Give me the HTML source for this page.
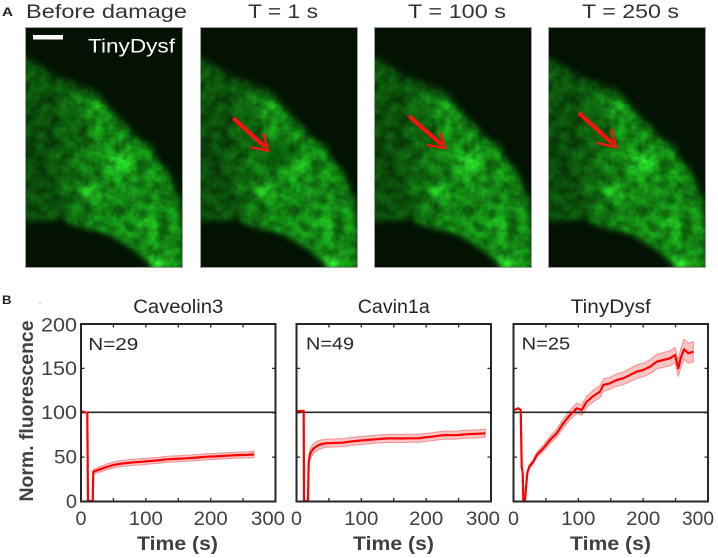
<!DOCTYPE html>
<html><head><meta charset="utf-8"><style>
html,body{margin:0;padding:0;background:#fff;}
svg{display:block;}
text{font-family:"Liberation Sans",Arial,sans-serif;}
</style></head><body>
<svg width="718" height="558" viewBox="0 0 718 558" xmlns="http://www.w3.org/2000/svg">
<defs>
  <clipPath id="ic"><rect x="0" y="0" width="158" height="241"/></clipPath>
  <linearGradient id="ig" gradientUnits="userSpaceOnUse" x1="28" y1="0" x2="72" y2="0">
    <stop offset="0" stop-color="#0b520b"/>
    <stop offset="1" stop-color="#138613"/>
  </linearGradient>
  <filter id="tex" x="-10%" y="-10%" width="120%" height="120%" color-interpolation-filters="sRGB">
    <feGaussianBlur in="SourceGraphic" stdDeviation="3" result="b"/>
    <feTurbulence type="fractalNoise" baseFrequency="0.09" numOctaves="3" seed="11" result="n"/>
    <feColorMatrix in="n" type="matrix" values="1 0 0 0 0  1 0 0 0 0  1 0 0 0 0  0 0 0 0 1" result="ng"/>
    <feComposite in="b" in2="ng" operator="arithmetic" k1="1.1" k2="0.45" k3="0" k4="0"/>
  </filter>
  <filter id="bl" x="-50%" y="-50%" width="200%" height="200%"><feGaussianBlur stdDeviation="5"/></filter>
  <g id="cell">
    <g filter="url(#tex)">
      <path d="M-3,26 L15,38 L32,48 L52,56 L72,64 L85,79 L102,98 L115,112 L127,117 L135,136 L142,139 L152,162 L160,183 L162,246 L128,246 L115,228 L95,212 L62,198 L38,192 L-3,196 Z" fill="#0b520b"/>
      <path d="M28,62 L58,66 L84,84 L106,108 L126,124 L142,150 L155,184 L157,243 L130,243 L112,225 L82,207 L42,197 L32,160 L26,110 Z" fill="url(#ig)"/>
      <ellipse cx="95" cy="137" rx="14" ry="10" fill="#22c022"/>
      <ellipse cx="65" cy="165" rx="10" ry="8" fill="#1fae1f"/>
      <ellipse cx="70" cy="82" rx="10" ry="7" fill="#1ca81c"/>
      <ellipse cx="134" cy="234" rx="9" ry="8" fill="#26c226"/>
      <ellipse cx="125" cy="200" rx="10" ry="10" fill="#1aa01a"/>
      <ellipse cx="110" cy="170" rx="8" ry="6" fill="#1aa41a"/>
      <ellipse cx="52" cy="108" rx="13" ry="15" fill="#0d5e0d"/>
      <ellipse cx="88" cy="190" rx="14" ry="7" fill="#117c11"/>
      <ellipse cx="12" cy="130" rx="14" ry="55" fill="#0a4a0a"/>
    </g>
  </g>
</defs>

<!-- Panel A -->
<text x="2" y="16" font-size="12" font-weight="bold" fill="#222" textLength="11" lengthAdjust="spacingAndGlyphs">A</text>
<text x="26" y="18" font-size="19" fill="#333" textLength="161" lengthAdjust="spacingAndGlyphs">Before damage</text>
<text x="248" y="18" font-size="19" fill="#333" textLength="70" lengthAdjust="spacingAndGlyphs">T = 1 s</text>
<text x="408" y="18" font-size="19" fill="#333" textLength="98" lengthAdjust="spacingAndGlyphs">T = 100 s</text>
<text x="582" y="18" font-size="19" fill="#333" textLength="97" lengthAdjust="spacingAndGlyphs">T = 250 s</text>

<g transform="translate(25,27)">
  <g clip-path="url(#ic)">
    <rect width="158" height="241" fill="#031203"/>
    <use href="#cell"/>
  </g>
  <rect x="0.5" y="0.5" width="157" height="240" fill="none" stroke="#a0a0a0" stroke-width="1"/>
  <rect x="8" y="8" width="30" height="4.5" fill="#fff"/>
  <text x="63" y="25.5" font-size="19" fill="#fff" textLength="87" lengthAdjust="spacingAndGlyphs">TinyDysf</text>
</g>

<g transform="translate(200,27)">
  <g clip-path="url(#ic)">
    <rect width="158" height="241" fill="#031203"/>
    <use href="#cell"/>
    <ellipse cx="82" cy="128" rx="20" ry="13" fill="#063806" opacity="0.6" filter="url(#bl)"/>
  </g>
  <rect x="0.5" y="0.5" width="157" height="240" fill="none" stroke="#a0a0a0" stroke-width="1"/>
  <line x1="33.3" y1="91.3" x2="65" y2="119.7" stroke="#ff1010" stroke-width="4"/>
  <polyline points="63.3,106.3 68.3,123.7 51,120.3" fill="none" stroke="#ff1010" stroke-width="2.4"/>
</g>

<g transform="translate(374,27)">
  <g clip-path="url(#ic)">
    <rect width="158" height="241" fill="#031203"/>
    <use href="#cell"/>
  </g>
  <rect x="0.5" y="0.5" width="157" height="240" fill="none" stroke="#a0a0a0" stroke-width="1"/>
  <line x1="35" y1="89" x2="67.5" y2="117.5" stroke="#ff1010" stroke-width="4"/>
  <polyline points="66,105 71,121 53,118" fill="none" stroke="#ff1010" stroke-width="2.4"/>
</g>

<g transform="translate(548,27)">
  <g clip-path="url(#ic)">
    <rect width="158" height="241" fill="#031203"/>
    <use href="#cell"/>
  </g>
  <rect x="0.5" y="0.5" width="157" height="240" fill="none" stroke="#a0a0a0" stroke-width="1"/>
  <line x1="31" y1="86" x2="64.5" y2="116.5" stroke="#ff1010" stroke-width="4"/>
  <polyline points="63,102 68,120 49,116" fill="none" stroke="#ff1010" stroke-width="2.4"/>
</g>

<!-- Panel B -->
<text x="2" y="304" font-size="12" font-weight="bold" fill="#222" textLength="9.5" lengthAdjust="spacingAndGlyphs">B</text>
<circle cx="40" cy="303" r="0.6" fill="#777"/>

<!-- titles -->
<text x="178.25" y="313" font-size="19" fill="#262626" text-anchor="middle" textLength="90" lengthAdjust="spacingAndGlyphs">Caveolin3</text>
<text x="393.75" y="313" font-size="19" fill="#262626" text-anchor="middle" textLength="72" lengthAdjust="spacingAndGlyphs">Cavin1a</text>
<text x="610.75" y="313" font-size="19" fill="#262626" text-anchor="middle" textLength="80" lengthAdjust="spacingAndGlyphs">TinyDysf</text>

<!-- y label -->
<text transform="translate(33,411) rotate(-90)" x="0" y="0" font-size="19.5" font-weight="bold" fill="#404040" text-anchor="middle" textLength="181" lengthAdjust="spacingAndGlyphs">Norm. fluorescence</text>

<!-- y tick labels -->
<g font-size="19" fill="#404040" text-anchor="end">
  <text x="77" y="508" textLength="11" lengthAdjust="spacingAndGlyphs">0</text>
  <text x="77" y="463.6" textLength="23" lengthAdjust="spacingAndGlyphs">50</text>
  <text x="77" y="419.2" textLength="36" lengthAdjust="spacingAndGlyphs">100</text>
  <text x="77" y="374.9" textLength="36" lengthAdjust="spacingAndGlyphs">150</text>
  <text x="77" y="331.5" textLength="36" lengthAdjust="spacingAndGlyphs">200</text>
</g>

<!-- x tick labels -->
<g font-size="19" fill="#404040" text-anchor="middle">
  <text x="81" y="525" textLength="11" lengthAdjust="spacingAndGlyphs">0</text>
  <text x="145.8" y="525" textLength="34" lengthAdjust="spacingAndGlyphs">100</text>
  <text x="210.7" y="525" textLength="34" lengthAdjust="spacingAndGlyphs">200</text>
  <text x="268" y="525" textLength="34" lengthAdjust="spacingAndGlyphs">300</text>
  <text x="296.5" y="525" textLength="11" lengthAdjust="spacingAndGlyphs">0</text>
  <text x="361.3" y="525" textLength="34" lengthAdjust="spacingAndGlyphs">100</text>
  <text x="426.2" y="525" textLength="34" lengthAdjust="spacingAndGlyphs">200</text>
  <text x="483" y="525" textLength="34" lengthAdjust="spacingAndGlyphs">300</text>
  <text x="513.5" y="525" textLength="11" lengthAdjust="spacingAndGlyphs">0</text>
  <text x="578.3" y="525" textLength="34" lengthAdjust="spacingAndGlyphs">100</text>
  <text x="643.2" y="525" textLength="34" lengthAdjust="spacingAndGlyphs">200</text>
  <text x="698" y="525" textLength="32" lengthAdjust="spacingAndGlyphs">300</text>
</g>

<!-- x labels -->
<g font-size="19.5" font-weight="bold" fill="#404040" text-anchor="middle">
  <text x="177.5" y="550" textLength="81" lengthAdjust="spacingAndGlyphs">Time (s)</text>
  <text x="393.5" y="550" textLength="81" lengthAdjust="spacingAndGlyphs">Time (s)</text>
  <text x="610.5" y="550" textLength="81" lengthAdjust="spacingAndGlyphs">Time (s)</text>
</g>

<!-- N labels -->
<g font-size="17.5" fill="#262626">
  <text x="88.3" y="350" textLength="50" lengthAdjust="spacingAndGlyphs">N=29</text>
  <text x="306" y="349.5" textLength="48" lengthAdjust="spacingAndGlyphs">N=49</text>
  <text x="521.7" y="349.5" textLength="48.5" lengthAdjust="spacingAndGlyphs">N=25</text>
</g>

<!-- Plot 1 data -->
<polygon points="93.3,469.7 100,466.5 106,464.3 113.3,462 120,460.8 133.3,459.3 141,458.8 150,458 158,457.4 166.7,456.3 176,455.9 186.7,455.3 196,454.6 206.7,453.7 216,453.4 226.7,452.7 240,452 247,451.9 254,451.2 254,457.6 247,457.9 240,458 226.7,458.7 216,459.4 206.7,459.7 196,460.6 186.7,461.3 176,461.9 166.7,462.3 158,463.4 150,464 141,464.8 133.3,465.3 120,466.8 113.3,468 106,470.1 100,472.1 93.3,473.7" fill="#f9c4c4" stroke="#f29090" stroke-width="1"/>
<!-- Plot 2 data -->
<polygon points="308.7,456.7 310.3,448.3 313.7,443.3 318.7,440.5 325.3,439.3 333,439 342,438.7 350,437.6 358.7,436.7 367,436 375.3,435.3 384,434.6 392,434.3 400,434.5 408.7,434.3 418.7,434.3 425,433.4 432,432.7 439,431.7 445.3,431 452,431.2 458.7,431 465,430.3 472,430 479,429.7 485.3,429.3 485.3,437.3 479,437.7 472,438 465,438.3 458.7,439 452,439.2 445.3,439 439,439.7 432,440.7 425,441.4 418.7,442.3 408.7,442.3 400,442.5 392,442.3 384,442.6 375.3,443.3 367,444 358.7,444.7 350,445.6 342,446.7 333,447 325.3,447.3 318.7,449.5 313.7,453.3 310.3,458.3 308.7,466.7" fill="#f9c4c4" stroke="#f29090" stroke-width="1"/>
<!-- Plot 3 data -->
<polygon points="527.3,471 529.3,464.7 533.3,459.5 536.7,452.5 543.3,445.3 550,436.5 556.7,429.3 563.3,418.8 570,410.2 576.7,403.3 581.7,404.7 586.7,396.2 593.3,390.2 600,385.7 603.3,379 610,377.3 616.7,373.8 623.3,372 630,368.5 636.7,365 643.3,363.2 650,359.7 656.7,354.5 663.3,352.6 670,350.8 675,347.2 678.3,360 680.7,349.3 684,339.3 688.3,343.3 693.3,341.7 693.3,361.7 688.3,363.3 684,359.3 680.7,367.3 678.3,376.6 675,362.8 670,365.8 663.3,367.4 656.7,368.9 650,373.7 643.3,376.8 636.7,378.4 630,381.5 623.3,384.6 616.7,386.2 610,389.3 603.3,391 600,397.7 593.3,401.8 586.7,407.2 581.7,415.3 576.7,413.3 570,419.8 563.3,427.8 556.7,437.3 550,443.5 543.3,451.3 536.7,457.5 533.3,463.9 529.3,468.7 527.3,475" fill="#f9c4c4" stroke="#f29090" stroke-width="1"/>

<!-- horizontal lines at 100 -->
<g stroke="#262626" stroke-width="1.6">
  <line x1="81" y1="412.3" x2="275.5" y2="412.3"/>
  <line x1="296.5" y1="412.3" x2="491" y2="412.3"/>
  <line x1="513.5" y1="412.3" x2="708" y2="412.3"/>
</g>

<!-- red mean lines -->
<g fill="none" stroke="#ff0000" stroke-width="2.2" stroke-linejoin="round">
  <polyline points="81,411 87.3,413 88,501 92.7,501 93.3,471.7 100,469.3 106,467.2 113.3,465 120,463.8 133.3,462.3 141,461.8 150,461 158,460.4 166.7,459.3 176,458.9 186.7,458.3 196,457.6 206.7,456.7 216,456.4 226.7,455.7 240,455 247,454.9 254,454.4"/>
  <polyline points="297,411 303.7,411 304,501 308,501 308.7,461.7 310.3,453.3 313.7,448.3 318.7,445 325.3,443.3 333,443 342,442.7 350,441.6 358.7,440.7 367,440 375.3,439.3 384,438.6 392,438.3 400,438.5 408.7,438.3 418.7,438.3 425,437.4 432,436.7 439,435.7 445.3,435 452,435.2 458.7,435 465,434.3 472,434 479,433.7 485.3,433.3"/>
  <polyline points="514,410 518.3,408.3 520.7,410 521.7,466.7 522.7,473 523.3,500 525,500 527.3,473 529.3,466.7 533.3,461.7 536.7,455 543.3,448.3 550,440 556.7,433.3 563.3,423.3 570,415 576.7,408.3 581.7,410 586.7,401.7 593.3,396 600,391.7 603.3,385 610,383.3 616.7,380 623.3,378.3 630,375 636.7,371.7 643.3,370 650,366.7 656.7,361.7 663.3,360 670,358.3 675,355 678.3,368.3 680.7,358.3 684,349.3 688.3,353.3 693.3,351.7"/>
</g>

<!-- frames -->
<g fill="none" stroke="#262626" stroke-width="2">
  <rect x="81" y="324" width="194.5" height="177.5"/>
  <rect x="296.5" y="324" width="194.5" height="177.5"/>
  <rect x="513.5" y="324" width="194.5" height="177.5"/>
</g>

<!-- ticks -->
<g stroke="#262626" stroke-width="1.3" fill="none">
  <path d="M113.42,501.5v-3.5M145.83,501.5v-3.5M178.25,501.5v-3.5M210.67,501.5v-3.5M243.08,501.5v-3.5
           M113.42,324v3.5M145.83,324v3.5M178.25,324v3.5M210.67,324v3.5M243.08,324v3.5
           M81,457.13h3.5M81,412.75h3.5M81,368.38h3.5M275.5,457.13h-3.5M275.5,412.75h-3.5M275.5,368.38h-3.5"/>
  <path d="M328.92,501.5v-3.5M361.33,501.5v-3.5M393.75,501.5v-3.5M426.17,501.5v-3.5M458.58,501.5v-3.5
           M328.92,324v3.5M361.33,324v3.5M393.75,324v3.5M426.17,324v3.5M458.58,324v3.5
           M296.5,457.13h3.5M296.5,412.75h3.5M296.5,368.38h3.5M491,457.13h-3.5M491,412.75h-3.5M491,368.38h-3.5"/>
  <path d="M545.92,501.5v-3.5M578.33,501.5v-3.5M610.75,501.5v-3.5M643.17,501.5v-3.5M675.58,501.5v-3.5
           M545.92,324v3.5M578.33,324v3.5M610.75,324v3.5M643.17,324v3.5M675.58,324v3.5
           M513.5,457.13h3.5M513.5,412.75h3.5M513.5,368.38h3.5M708,457.13h-3.5M708,412.75h-3.5M708,368.38h-3.5"/>
</g>
</svg>
</body></html>
